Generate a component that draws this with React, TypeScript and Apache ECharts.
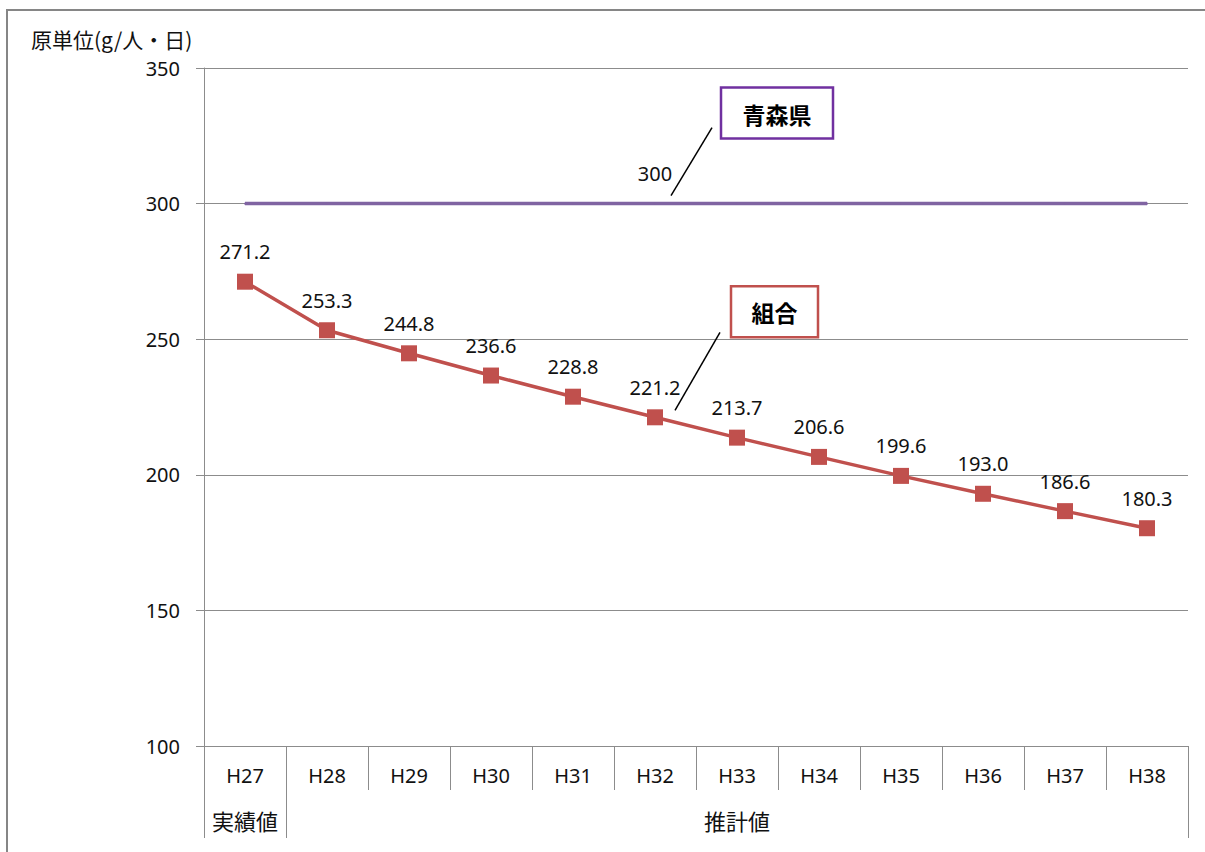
import React, { useEffect, useRef } from 'react';
import * as echarts from 'echarts';

const categories = ['H27', 'H28', 'H29', 'H30', 'H31', 'H32', 'H33', 'H34', 'H35', 'H36', 'H37', 'H38'];
const groupLabels = ['実績値', '', '', '', '', '', '推計値', '', '', '', '', ''];
const kumiaiValues = [271.2, 253.3, 244.8, 236.6, 228.8, 221.2, 213.7, 206.6, 199.6, 193.0, 186.6, 180.3];
const aomoriValues = [300, 300, 300, 300, 300, 300, 300, 300, 300, 300, 300, 300];
const yTicks = { min: 100, max: 350, interval: 50 };
const yTitle = '原単位(g/人・日)';
const aomoriName = '青森県';
const kumiaiName = '組合';
const aomoriLabelIndex = 5;
const calloutIndex = 5;

const FONT = "'Noto Sans', 'Noto Sans CJK JP', sans-serif";
const CJK = "'Noto Sans CJK JP', sans-serif";
const GRAY = '#8c8c8c';
const TEXT = '#111111';
const PURPLE = '#8064a2';
const RED = '#c0504d';

export default function App() {
  const ref = useRef<HTMLDivElement>(null);
  useEffect(() => {
    if (!ref.current) return;
    const chart = echarts.init(ref.current, undefined, { renderer: 'svg' });
    chart.setOption({
      animation: false,
      backgroundColor: '#ffffff',
      title: {
        text: yTitle,
        left: 26,
        top: 23,
        textStyle: { fontFamily: CJK, fontSize: 21, fontWeight: 'normal', color: TEXT },
      },
      grid: { left: 204, right: 17, top: 68, bottom: 106, containLabel: false },
      xAxis: [
        {
          type: 'category',
          position: 'bottom',
          data: categories,
          boundaryGap: true,
          axisLine: { show: true, lineStyle: { color: GRAY, width: 1 } },
          axisTick: { show: true, length: 44, interval: 0, lineStyle: { color: GRAY, width: 1 } },
          axisLabel: { interval: 0, margin: 19, fontFamily: FONT, fontSize: 20, color: TEXT },
          splitLine: { show: false },
        },
        {
          type: 'category',
          position: 'bottom',
          data: groupLabels,
          boundaryGap: true,
          axisLine: { show: false },
          axisTick: {
            show: true,
            length: 92,
            interval: (i: number) => i === 0 || i === 1,
            lineStyle: { color: GRAY, width: 1 },
          },
          axisLabel: { interval: 0, margin: 63, fontFamily: CJK, fontSize: 22, color: TEXT },
          splitLine: { show: false },
        },
      ],
      yAxis: {
        type: 'value',
        min: yTicks.min,
        max: yTicks.max,
        interval: yTicks.interval,
        axisLine: { show: true, lineStyle: { color: GRAY, width: 1 } },
        axisTick: { show: true, length: 8, lineStyle: { color: GRAY, width: 1 } },
        axisLabel: { margin: 24, fontFamily: FONT, fontSize: 20, color: TEXT },
        splitLine: { show: true, lineStyle: { color: GRAY, width: 1 } },
      },
      series: [
        {
          name: aomoriName,
          type: 'line',
          xAxisIndex: 0,
          yAxisIndex: 0,
          data: aomoriValues,
          symbol: 'circle',
          symbolSize: 2,
          lineStyle: { color: PURPLE, width: 3.5 },
          itemStyle: { color: PURPLE },
          label: {
            show: true,
            position: 'top',
            distance: 19,
            fontFamily: FONT,
            fontSize: 20,
            color: TEXT,
            formatter: (p: any) => (p.dataIndex === aomoriLabelIndex ? String(p.value) : ''),
          },
          z: 2,
        },
        {
          name: kumiaiName,
          type: 'line',
          xAxisIndex: 0,
          yAxisIndex: 0,
          data: kumiaiValues,
          symbol: 'rect',
          symbolSize: 16,
          lineStyle: { color: RED, width: 3.5 },
          itemStyle: { color: RED },
          label: {
            show: true,
            position: 'top',
            distance: 12,
            fontFamily: FONT,
            fontSize: 20,
            color: TEXT,
            formatter: (p: any) => Number(p.value).toFixed(1),
          },
          z: 3,
        },
      ],
    });

    const pa = chart.convertToPixel({ xAxisIndex: 0, yAxisIndex: 0 }, [calloutIndex, aomoriValues[calloutIndex]]) as number[];
    const pk = chart.convertToPixel({ xAxisIndex: 0, yAxisIndex: 0 }, [calloutIndex, kumiaiValues[calloutIndex]]) as number[];

    chart.setOption({
      graphic: [
        {
          type: 'rect',
          silent: true,
          shape: { x: 7, y: 10, width: 1260, height: 900 },
          style: { fill: 'none', stroke: '#868686', lineWidth: 2 },
          z: 100,
        },
        {
          type: 'line',
          shape: { x1: pa[0] + 16, y1: pa[1] - 8, x2: pa[0] + 57, y2: pa[1] - 76 },
          style: { stroke: '#000', lineWidth: 1.5 },
          z: 100,
        },
        {
          type: 'rect',
          shape: { x: pa[0] + 66, y: pa[1] - 116, width: 112, height: 51 },
          style: { fill: '#fff', stroke: '#7030a0', lineWidth: 2.5 },
          z: 100,
        },
        {
          type: 'text',
          x: pa[0] + 66 + 56,
          y: pa[1] - 116 + 26,
          style: {
            text: aomoriName,
            fontFamily: CJK,
            fontSize: 23,
            fontWeight: 'bold',
            fill: '#000',
            align: 'center',
            verticalAlign: 'middle',
          },
          z: 101,
        },
        {
          type: 'line',
          shape: { x1: pk[0] + 20, y1: pk[1] - 7, x2: pk[0] + 65, y2: pk[1] - 85 },
          style: { stroke: '#000', lineWidth: 1.5 },
          z: 100,
        },
        {
          type: 'rect',
          shape: { x: pk[0] + 76, y: pk[1] - 131, width: 87, height: 51 },
          style: { fill: '#fff', stroke: RED, lineWidth: 2.5 },
          z: 100,
        },
        {
          type: 'text',
          x: pk[0] + 76 + 43.5,
          y: pk[1] - 131 + 26,
          style: {
            text: kumiaiName,
            fontFamily: CJK,
            fontSize: 23,
            fontWeight: 'bold',
            fill: '#000',
            align: 'center',
            verticalAlign: 'middle',
          },
          z: 101,
        },
      ],
    });

    return () => chart.dispose();
  }, []);
  return (
    <div
      ref={ref}
      style={{ position: 'absolute', left: 0, top: 0, width: 1205, height: 852, background: '#fff' }}
    />
  );
}
